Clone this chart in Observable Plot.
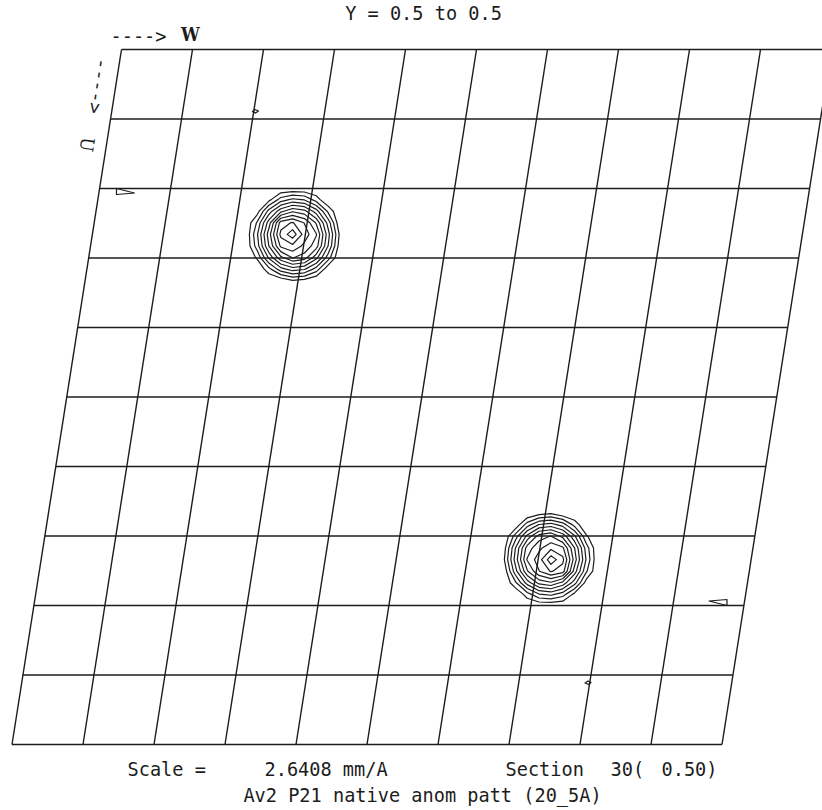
<!DOCTYPE html>
<html><head><meta charset="utf-8">
<script src="https://cdn.jsdelivr.net/npm/d3@7"></script>
<script src="https://cdn.jsdelivr.net/npm/@observablehq/plot@0.6"></script>
<style>html,body{margin:0;padding:0;background:#fff;overflow:hidden}</style>
</head><body><div id="chart"></div>
<script>
// ---------------- data ----------------
const titleText = "Y = 0.5 to 0.5";
const scaleLabel = "Scale =";
const scaleValue = "2.6408 mm/A";
const sectionLabel = "Section";
const sectionNumber = "30(";
const sectionValue = "0.50)";
const captionText = "Av2 P21 native anom patt (20_5A)";
const uAxisLabel = "U";
const wAxisLabel = "W";
const arrowText = "---->";

// grid lines (fractional cell coordinates x10)
const uLines = [0, 1, 2, 3, 4, 5, 6, 7, 8, 9, 10];
const wLines = [0, 1, 2, 3, 4, 5, 6, 7, 8, 9, 10];

// Patterson peaks: centre of each sampled patch (u, w) and sampled density values
const contourLevels = [1, 2, 3, 4, 5, 6, 7, 8, 9, 10, 11];
const peakCentersU = [2.66, 7.34];
const peakCentersW = [2.82, 7.18];
const peak1Values = [
  [0, 0, 0, 0, 0, 0, 0, 0, 0],
  [0, 0, 0.66, 2.44, 3.25, 2.91, 1.5, 0, 0],
  [0, 0.5, 3.41, 5.69, 6.84, 6.34, 4.47, 1.78, 0],
  [0, 2.13, 5.53, 9.48, 10.11, 8.95, 6.88, 3.6, 0.13],
  [0, 2.86, 6.53, 10.28, 11.61, 9.58, 8.09, 4.41, 0.75],
  [0, 2.5, 6.03, 9.21, 9.77, 8.73, 7.47, 4.0, 0.44],
  [0, 1.16, 4.22, 6.75, 8.09, 7.53, 5.38, 2.5, 0],
  [0, 0, 1.66, 3.6, 4.5, 4.12, 2.56, 0.22, 0],
  [0, 0, 0, 0.22, 0.88, 0.6, 0, 0, 0]
];
const peak2Values = [
  [0, 0, 0, 0.6, 0.88, 0.22, 0, 0, 0],
  [0, 0.22, 2.56, 4.12, 4.5, 3.6, 1.66, 0, 0],
  [0, 2.5, 5.38, 7.53, 8.09, 6.75, 4.22, 1.16, 0],
  [0.44, 4.0, 7.47, 8.73, 9.77, 9.21, 6.03, 2.5, 0],
  [0.75, 4.41, 8.09, 9.58, 11.61, 10.28, 6.53, 2.86, 0],
  [0.13, 3.6, 6.88, 8.95, 10.11, 9.48, 5.53, 2.13, 0],
  [0, 1.78, 4.47, 6.34, 6.84, 5.69, 3.41, 0.5, 0],
  [0, 0, 1.5, 2.91, 3.25, 2.44, 0.66, 0, 0],
  [0, 0, 0, 0, 0, 0, 0, 0, 0]
];

// small isolated lowest-level contours (u, w)
const smallContourU = [
  [2.0, 2.065, 2.086, 2.0],
  [8.0, 7.935, 7.914, 8.0],
  [0.892, 0.863, 0.885, 0.914, 0.892],
  [9.108, 9.137, 9.115, 9.086, 9.108]
];
const smallContourW = [
  [0.238, 0.501, 0.251, 0.238],
  [9.762, 9.499, 9.749, 9.762],
  [1.983, 2.013, 2.066, 2.028, 1.983],
  [8.017, 7.987, 7.934, 7.972, 8.017]
];

// ---------------- layout ----------------
const W = 822, H = 810;
const originX = 121, originY = 49;   // px of grid corner u=0,w=0
const cellW = 71, cellH = 69.5;      // px per grid step
const skewPx = 10.95;                // horizontal shift per u step
const patchStep = 1 / 6, patchMid = 4;
const ink = "#1c1c1c";
const fontFamily = "DejaVu Sans Mono";

const toX = (u, w) => w - (skewPx / cellW) * u;
const toY = (u) => u;

// contour rings from the sampled patches
const contourGen = d3.contours().size([9, 9]).thresholds(contourLevels);
const contourPts = [];
let ringId = 0;
[peak1Values, peak2Values].forEach((vals, k) => {
  const cX = toX(peakCentersU[k], peakCentersW[k]);
  const cY = toY(peakCentersU[k]);
  for (const mp of contourGen(vals.flat())) {
    for (const poly of mp.coordinates) for (const ring of poly) {
      ringId++;
      for (const [gx, gy] of ring) {
        contourPts.push({X: cX + (gx - 0.5 - patchMid) * patchStep, Y: cY + (gy - 0.5 - patchMid) * patchStep, ring: ringId});
      }
    }
  }
});
const smallPts = [];
smallContourU.forEach((us, k) => us.forEach((u, i) => smallPts.push({X: toX(u, smallContourW[k][i]), Y: toY(u), ring: k})));

const txt = (s, dx, dy, opts = {}) => Plot.text([s], {
  frameAnchor: "top-left", dx, dy, text: d => d, lineAnchor: "middle",
  fill: ink, fontSize: 18.6, ...opts
});

const chart = Plot.plot({
  width: W, height: H, margin: 0,
  style: {background: "#fff", fontFamily, overflow: "visible"},
  x: {domain: [-originX / cellW, (W - originX) / cellW], range: [0, W], axis: null},
  y: {domain: [-originY / cellH, (H - originY) / cellH], range: [0, H], axis: null},
  marks: [
    Plot.link(uLines, {x1: u => toX(u, wLines[0]), y1: u => toY(u), x2: u => toX(u, wLines[wLines.length - 1]), y2: u => toY(u), stroke: ink, strokeWidth: 1.4}),
    Plot.link(wLines, {x1: w => toX(uLines[0], w), y1: () => toY(uLines[0]), x2: w => toX(uLines[uLines.length - 1], w), y2: () => toY(uLines[uLines.length - 1]), stroke: ink, strokeWidth: 1.4}),
    Plot.line(contourPts, {x: "X", y: "Y", z: "ring", stroke: ink, strokeWidth: 1.2, curve: "linear"}),
    Plot.line(smallPts, {x: "X", y: "Y", z: "ring", stroke: ink, strokeWidth: 1.2, curve: "linear"}),
    txt(titleText, 423, 14, {textAnchor: "middle"}),
    txt(arrowText, 110, 37, {textAnchor: "start"}),
    txt(wAxisLabel, 190, 35, {textAnchor: "middle", fontWeight: "bold", fontFamily: "DejaVu Serif Condensed"}),
    txt(arrowText, 102, 58, {textAnchor: "start", rotate: 99}),
    txt(uAxisLabel, 86, 144, {textAnchor: "middle", rotate: 99, fontFamily: "DejaVu Serif Condensed"}),
    txt(scaleLabel, 127, 770, {textAnchor: "start"}),
    txt(scaleValue, 264, 770, {textAnchor: "start"}),
    txt(sectionLabel, 505, 770, {textAnchor: "start"}),
    txt(sectionNumber, 610, 770, {textAnchor: "start"}),
    txt(sectionValue, 717, 770, {textAnchor: "end"}),
    txt(captionText, 422, 796, {textAnchor: "middle"})
  ]
});
document.getElementById("chart").append(chart);
</script>
</body></html>
